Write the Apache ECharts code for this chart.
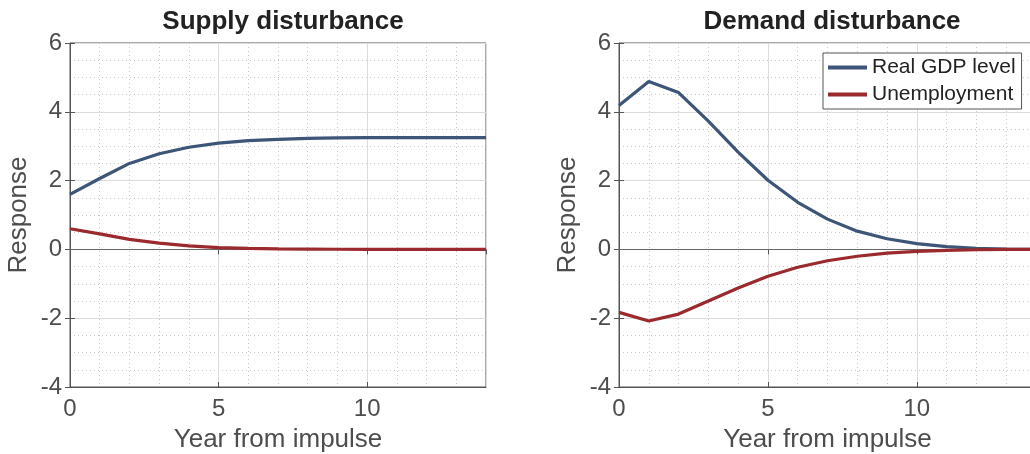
<!DOCTYPE html>
<html><head><meta charset="utf-8">
<script src="https://cdn.jsdelivr.net/npm/echarts@6/dist/echarts.min.js"></script>
<style>html,body{margin:0;padding:0;background:#fff}#c{width:1030px;height:454px}</style>
</head><body><div id="c"></div>
<script>
const years = [0,1,2,3,4,5,6,7,8,9,10,11,12,13,14];
const supplyGDP = [1.6,2.06,2.5,2.78,2.97,3.09,3.16,3.2,3.23,3.24,3.25,3.25,3.25,3.25,3.25];
const supplyUnemp = [0.6,0.45,0.29,0.18,0.1,0.05,0.03,0.015,0.01,0.005,0,0,0,0,0];
const demandGDP = [4.18,4.88,4.56,3.73,2.83,2.01,1.37,0.88,0.53,0.31,0.17,0.08,0.03,0.01,0];
const demandUnemp = [-1.83,-2.08,-1.88,-1.5,-1.12,-0.78,-0.52,-0.33,-0.2,-0.11,-0.06,-0.03,-0.01,0,0];
const titles = ['Supply disturbance','Demand disturbance'];
const seriesNames = ['Real GDP level','Unemployment'];
const colors = ['#3d5577','#9b2a2e'];

const font = 'Liberation Sans, Arial, sans-serif';
const grids = [
  {left:70, top:43, width:416, height:344, show:true, borderColor:'#555', borderWidth:1, backgroundColor:'#fff', outerBoundsMode:'none', containLabel:false},
  {left:619, top:43, width:417, height:344, show:true, borderColor:'#555', borderWidth:1, backgroundColor:'#fff', outerBoundsMode:'none', containLabel:false}
];
const xAxes = [], yAxes = [];
[0,1].forEach(i=>{
  xAxes.push({type:'value', gridIndex:i, min:0, max:14, interval:5,
    name:'Year from impulse', nameLocation:'middle', nameGap:40,
    nameTextStyle:{fontSize:26, color:'#4d4d4d', fontFamily:font},
    axisLine:{show:true, onZero:false, lineStyle:{color:'#555'}},
    axisTick:{show:true, inside:true, length:5, lineStyle:{color:'#555'}},
    minorTick:{show:false, splitNumber:5},
    axisLabel:{fontSize:24, color:'#4d4d4d', fontFamily:font, margin:10, showMaxLabel:false},
    splitLine:{show:true, lineStyle:{color:'#dcdcdc', width:1}},
    minorSplitLine:{show:true, lineStyle:{color:'#c8c8c8', type:[1,3], width:1}}
  });
  xAxes.push({type:'value', gridIndex:i, min:0, max:14, interval:5, position:'top',
    axisLine:{show:false}, axisLabel:{show:false}, splitLine:{show:false},
    axisTick:{show:true, inside:true, length:5, lineStyle:{color:'#555'}}});
  yAxes.push({type:'value', gridIndex:i, min:-4, max:6, interval:2,
    name:'Response', nameLocation:'middle', nameGap:38,
    nameTextStyle:{fontSize:26, color:'#4d4d4d', fontFamily:font},
    axisLine:{show:true, lineStyle:{color:'#555'}},
    axisTick:{show:true, inside:true, length:5, lineStyle:{color:'#555'}},
    minorTick:{show:false, splitNumber:4},
    axisLabel:{fontSize:24, color:'#4d4d4d', fontFamily:font, margin:8},
    splitLine:{show:true, lineStyle:{color:'#dcdcdc', width:1}},
    minorSplitLine:{show:true, lineStyle:{color:'#c8c8c8', type:[1,3], width:1}}
  });
  yAxes.push({type:'value', gridIndex:i, min:-4, max:6, interval:2, position:'right',
    axisLine:{show:false}, axisLabel:{show:false}, splitLine:{show:false},
    axisTick:{show:true, inside:true, length:5, lineStyle:{color:'#555'}}});
});
const data = [[supplyGDP, supplyUnemp],[demandGDP, demandUnemp]];
const series = [];
[0,1].forEach(i=>{
  [0,1].forEach(j=>{
    const s = {type:'line', name:seriesNames[j], xAxisIndex:i*2, yAxisIndex:i*2,
      data: years.map((y,k)=>[y, data[i][j][k]]),
      showSymbol:false, symbol:'none', smooth:false,
      lineStyle:{color:colors[j], width:3.2}, itemStyle:{color:colors[j]},
      z: 3, animation:false};
    if (j===0) s.markLine = {silent:true, symbol:'none', label:{show:false},
      lineStyle:{color:'#666', width:1, type:'solid'}, data:[{yAxis:0}], z:2, animation:false};
    series.push(s);
  });
});
const chart = echarts.init(document.getElementById('c'), null, {renderer:'canvas'});
chart.setOption({
  animation:false,
  backgroundColor:'#fff',
  title: [
    {text:titles[0], left:278, top:4, textAlign:'center', textStyle:{fontSize:26, fontWeight:'bold', color:'#222', fontFamily:font}},
    {text:titles[1], left:827, top:4, textAlign:'center', textStyle:{fontSize:26, fontWeight:'bold', color:'#222', fontFamily:font}}
  ],
  grid: grids, xAxis: xAxes, yAxis: yAxes, series: series,
  legend: {data:seriesNames, orient:'vertical', left:823, top:53, itemGap:6,
    itemWidth:39, itemHeight:4, icon:'rect',
    backgroundColor:'#fff', borderColor:'#555', borderWidth:1, borderRadius:0,
    padding:[4,6,4,5],
    textStyle:{fontSize:21, color:'#222', fontFamily:font, padding:[0,0,0,0]}}
});
</script></body></html>
